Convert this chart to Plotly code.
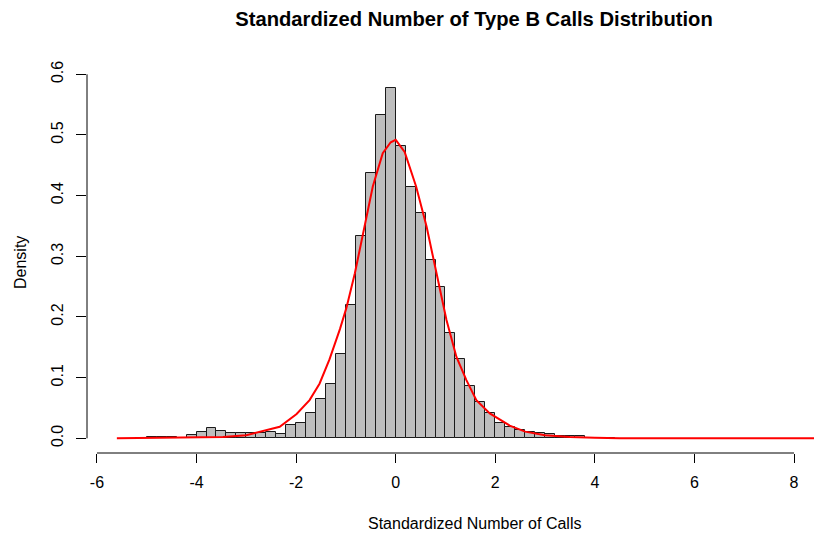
import plotly.graph_objects as go

# Histogram bins (left edges, width 0.2) and densities
bin_left = [-5.0, -4.8, -4.6, -4.4, -4.2, -4.0, -3.8, -3.6, -3.4, -3.2, -3.0, -2.8,
            -2.6, -2.4, -2.2, -2.0, -1.8, -1.6, -1.4, -1.2, -1.0, -0.8, -0.6, -0.4,
            -0.2, 0.0, 0.2, 0.4, 0.6, 0.8, 1.0, 1.2, 1.4, 1.6, 1.8, 2.0, 2.2, 2.4,
            2.6, 2.8, 3.0, 3.2, 3.4, 3.6, 3.8, 4.0, 4.2]
density = [0.003, 0.003, 0.003, 0.001, 0.005, 0.010, 0.017, 0.012, 0.008, 0.008, 0.008, 0.008,
           0.011, 0.007, 0.022, 0.026, 0.042, 0.064, 0.090, 0.139, 0.219, 0.334, 0.438, 0.533,
           0.578, 0.482, 0.414, 0.371, 0.294, 0.249, 0.174, 0.131, 0.087, 0.060, 0.042, 0.025, 0.018, 0.014,
           0.010, 0.008, 0.007, 0.004, 0.004, 0.004, 0.001, 0.001, 0.001]
bin_width = 0.2

# Fitted density curve points
curve_x = [-5.6, -4.5, -4.0, -3.47, -3.0, -2.73, -2.33, -1.99, -1.73, -1.53, -1.33, -1.12,
           -0.99, -0.82, -0.66, -0.46, -0.26, -0.1, 0.0, 0.18, 0.41, 0.62, 0.82, 1.02,
           1.22, 1.42, 1.62, 1.89, 2.29, 2.6, 3.0, 3.5, 4.0, 4.5, 8.77]
curve_y = [0.000, 0.0005, 0.001, 0.002, 0.005, 0.0105, 0.019, 0.040, 0.063, 0.090, 0.130, 0.180,
           0.215, 0.272, 0.338, 0.415, 0.470, 0.488, 0.492, 0.472, 0.415, 0.349, 0.272, 0.195,
           0.134, 0.096, 0.063, 0.041, 0.021, 0.011, 0.005, 0.002, 0.001, 0.000, 0.000]

x_ticks = [-6, -4, -2, 0, 2, 4, 6, 8]
y_ticks = [0.0, 0.1, 0.2, 0.3, 0.4, 0.5, 0.6]
y_tick_text = ["0.0", "0.1", "0.2", "0.3", "0.4", "0.5", "0.6"]

# page body adds an 8px offset; compensate so the figure lands on the target pixels
OFF = 8
W, H = 822 - OFF, 533 - OFF
ML, MR, MT, MB = 87 - OFF, 0, 74 - OFF, 80
FONT = "Liberation Sans, Arial, sans-serif"
TXT = 16

centers = [b + bin_width / 2 for b in bin_left]

fig = go.Figure()
fig.add_trace(go.Bar(
    x=centers, y=density, width=bin_width,
    marker=dict(color="#BEBEBE", line=dict(color="#1a1a1a", width=1)),
    hoverinfo="skip",
))
fig.add_trace(go.Scatter(
    x=curve_x, y=curve_y, mode="lines",
    line=dict(color="#FF0000", width=2),
    hoverinfo="skip",
))

fig.update_layout(
    width=W, height=H,
    margin=dict(l=ML, r=MR, t=MT, b=MB, pad=0),
    paper_bgcolor="white", plot_bgcolor="white",
    showlegend=False,
    bargap=0,
    font=dict(family=FONT, color="black"),
    title=dict(
        text="<b>Standardized Number of Type B Calls Distribution</b>",
        font=dict(family=FONT, size=20.2, color="black"),
        xref="container", yref="container",
        x=(474 - OFF) / W, y=1 - (19 - OFF) / H, xanchor="center", yanchor="middle",
    ),
)

fig.update_xaxes(
    range=[-6.2, 8.562], tickmode="array", tickvals=x_ticks,
    ticktext=[str(t) for t in x_ticks],
    ticks="outside", ticklen=9, tickcolor="black", tickwidth=1,
    showgrid=False, zeroline=False, showline=False,
    tickfont=dict(family=FONT, size=TXT, color="black"),
    ticklabelstandoff=6,
)
fig.update_yaxes(
    range=[-0.0242, 0.6005], tickmode="array", tickvals=y_ticks, ticktext=y_tick_text,
    ticks="outside", ticklen=10, tickcolor="black", tickwidth=1,
    showgrid=False, zeroline=False, showline=False, tickangle=-90,
    tickfont=dict(family=FONT, size=TXT, color="black"),
    ticklabelstandoff=7,
)

# R-style axis lines spanning only the tick range
fig.add_shape(type="line", xref="x", yref="paper", x0=x_ticks[0], x1=x_ticks[-1], y0=0, y1=0,
              line=dict(color="black", width=1))
fig.add_shape(type="line", xref="paper", yref="y", x0=0, x1=0, y0=y_ticks[0], y1=y_ticks[-1],
              line=dict(color="black", width=1))

plot_w = W - ML - MR
plot_h = H - MT - MB
fig.add_annotation(
    text="Standardized Number of Calls", xref="paper", yref="paper",
    x=(474 - 87) / plot_w, y=-(523 - 453) / plot_h,
    xanchor="center", yanchor="middle", showarrow=False,
    font=dict(family=FONT, size=TXT, color="black"),
)
fig.add_annotation(
    text="Density", xref="paper", yref="paper",
    x=(20 - 87) / plot_w, y=(453 - 263) / plot_h,
    xanchor="center", yanchor="middle", showarrow=False, textangle=-90,
    font=dict(family=FONT, size=TXT, color="black"),
)

fig.write_html("out.html")
